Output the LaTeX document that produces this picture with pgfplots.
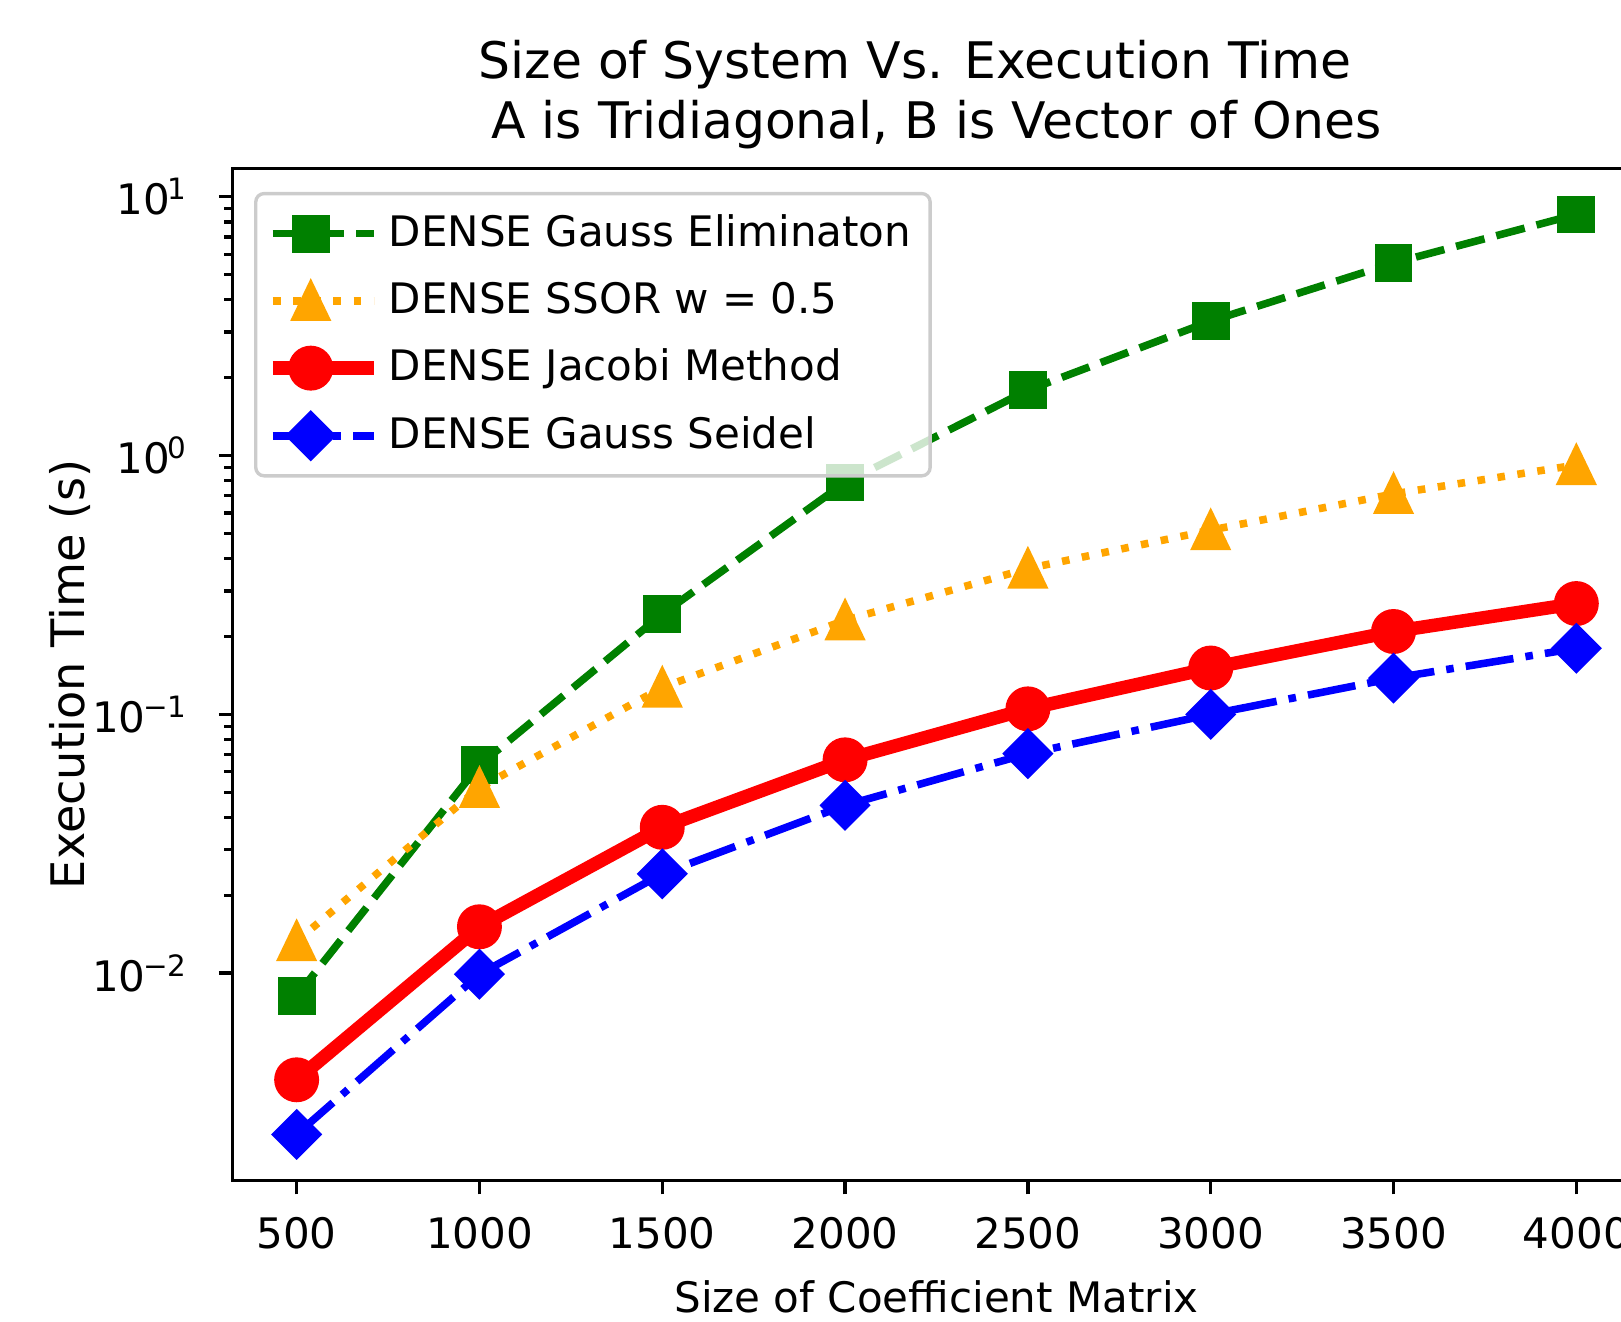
\documentclass[border=0pt]{standalone}
\usepackage{fontspec}
\setmainfont{DejaVu Sans}
\usepackage{pgfplots}
\pgfplotsset{compat=1.18}
\definecolor{mgreen}{HTML}{008000}
\definecolor{morange}{HTML}{FFA500}
\newcommand{\tpow}[1]{10\kern-0.6pt\textsuperscript{#1}}
\begin{document}
\begin{tikzpicture}
\begin{axis}[
  scale only axis, width=335.2pt, height=241pt,
  ymode=log, xmin=325, xmax=4175, ymin=0.00158, ymax=12.88,
  xtick={500,1000,1500,2000,2500,3000,3500,4000},
  scaled x ticks=false,
  /pgf/number format/1000 sep={}, /pgf/number format/assume math mode=true,
  ytick={0.01,0.1,1,10},
  yticklabels={{\tpow{−2}},{\tpow{−1}},{\tpow{0}},{\tpow{1}}},
  xtick pos=left, ytick pos=left,
  tick align=outside, major tick length=3.3pt, minor tick length=2pt,
  every tick/.style={black, line width=0.8pt},
  axis line style={line width=0.8pt},
  tick label style={font=\fontsize{10}{12}\selectfont},
  xticklabel style={anchor=base, yshift=-12.8pt},
  yticklabel style={anchor=east, inner sep=0pt, xshift=-7pt},
  title={Size of System Vs. Execution Time\kern0.85em\\A is Tridiagonal, B is Vector of Ones},
  title style={font=\fontsize{12}{14.2}\selectfont, align=center, at={(axis description cs:0.5,1)}, anchor=south, inner sep=0pt, yshift=-1.6pt},
  xlabel={Size of Coefficient Matrix},
  ylabel={Execution Time (s)},
  every axis x label/.style={at={(axis description cs:0.5,-0.1307)}, anchor=base, font=\fontsize{10}{12}\selectfont},
  every axis y label/.style={at={(axis description cs:-0.105,0.5)}, rotate=90, anchor=base, font=\fontsize{11}{13}\selectfont},
  legend style={at={(axis description cs:0,1)}, anchor=north west, xshift=5.1pt, yshift=-5.6pt,
    draw=black!20, line width=0.8pt, rounded corners=2pt, fill=white, fill opacity=0.8, text opacity=1, draw opacity=1,
    font=\fontsize{10}{12}\selectfont, row sep=3pt, inner xsep=2.5pt, inner ysep=3pt},
  legend cell align=left,
  legend image code/.code={\path (0pt,0pt) -- (24pt,0pt);\draw[fill opacity=1, draw opacity=1, mark repeat=2,mark phase=2] plot coordinates {(0pt,0pt)(9pt,0pt)(18pt,0pt)};},
]
\addplot[mgreen, line width=1.8pt, dash pattern=on 7pt off 2.9pt, mark=square*, mark size=4.3pt, mark options={solid, line width=0.4pt}]
  coordinates {(500,0.00817)(1000,0.0637)(1500,0.244)(2000,0.787)(2500,1.79)(3000,3.31)(3500,5.55)(4000,8.55)};
\addlegendentry{DENSE Gauss Eliminaton}
\addplot[morange, line width=1.8pt, dash pattern=on 1.8pt off 3pt, mark=triangle*, mark size=5.3pt, mark options={solid, line width=0.4pt, yshift=-1.4pt, yscale=1.2}]
  coordinates {(500,0.0133)(1000,0.052)(1500,0.127)(2000,0.231)(2500,0.366)(3000,0.515)(3500,0.711)(4000,0.92)};
\addlegendentry{DENSE SSOR w = 0.5}
\addplot[red, line width=3.2pt, mark=*, mark size=5.15pt, mark options={solid, line width=0.4pt}]
  coordinates {(500,0.00387)(1000,0.0151)(1500,0.0366)(2000,0.0667)(2500,0.105)(3000,0.151)(3500,0.209)(4000,0.268)};
\addlegendentry{DENSE Jacobi Method}
\addplot[blue, line width=1.8pt, dash pattern=on 11.5pt off 2.9pt on 1.8pt off 2.9pt, mark=square*, mark size=4.1pt, mark options={solid, line width=0.4pt, rotate=45}]
  coordinates {(500,0.00238)(1000,0.0099)(1500,0.0242)(2000,0.0445)(2500,0.0705)(3000,0.1)(3500,0.138)(4000,0.18)};
\addlegendentry{DENSE Gauss Seidel}
\end{axis}
\pgfresetboundingbox
\path[use as bounding box] ([xshift=-55.4pt, yshift=-33.7pt]current axis.south west) rectangle ([xshift=-4.6pt, yshift=40.1pt]current axis.north east);
\end{tikzpicture}
\end{document}
